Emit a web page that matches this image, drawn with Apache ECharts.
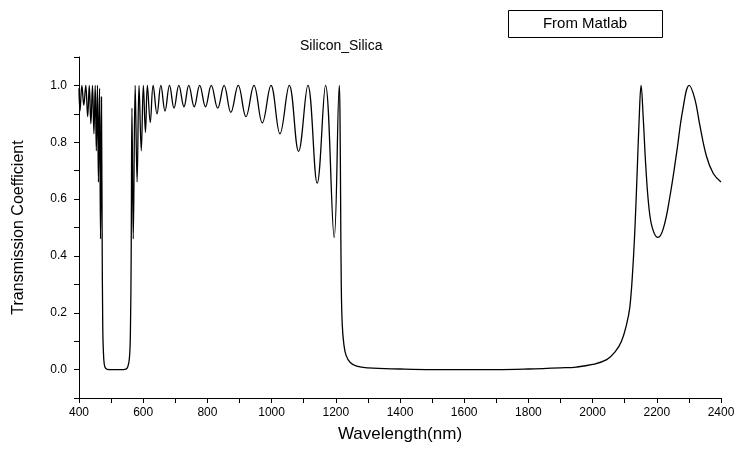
<!DOCTYPE html>
<html>
<head>
<meta charset="utf-8">
<title>Silicon_Silica</title>
<script src="https://cdn.jsdelivr.net/npm/echarts@6.0.0/dist/echarts.min.js"></script>
<style>
  html, body { margin: 0; padding: 0; background: #fff; }
  #chart { width: 739px; height: 450px; }
</style>
</head>
<body>
<div id="chart"></div>
<script>
// transmission, [wavelength nm, T]
const shortPass = [
  [400, 0.99], [403, 0.91], [409, 1.0], [415, 0.93], [421, 1.0], [427, 0.89],
  [432, 1.0], [437, 0.865], [442, 1.0], [446.5, 0.83], [450.5, 1.0], [454, 0.77],
  [457.5, 1.0], [460.5, 0.66], [464, 0.99], [467, 0.46], [470, 0.96]
];
const firstGap = [
  [472, 0.5], [474, 0.15], [477, 0.04], [481, 0.008], [488, 0.001], [500, 0],
  [530, 0], [546, 0.002], [552, 0.01], [557, 0.04], [560, 0.12], [562.5, 0.4]
];
const midPass = [
  [565, 0.92], [569, 0.46], [575, 1.0], [581, 0.66], [587, 1.0], [594, 0.77],
  [600.5, 1.0], [607, 0.835], [613, 1.0], [622, 0.87], [631, 1.0], [643, 0.9],
  [655, 1.0], [668, 0.91], [682, 1.0], [696, 0.92], [711, 1.0], [727, 0.925],
  [742, 1.0], [759, 0.925], [776, 1.0], [794, 0.925], [812, 1.0], [832, 0.92],
  [852, 1.0], [873, 0.905], [896, 1.0], [920, 0.89], [945, 1.0], [971, 0.868],
  [998, 1.0], [1026, 0.83], [1055, 1.0], [1084, 0.768], [1113, 1.0], [1142, 0.656],
  [1168, 1.0], [1195, 0.465], [1211, 1.0]
];
const secondGap = [
  [1213, 0.9], [1215, 0.6], [1217, 0.3], [1220, 0.16], [1225, 0.09], [1232, 0.05],
  [1245, 0.025], [1265, 0.012], [1300, 0.006], [1400, 0.002], [1500, 0], [1700, 0],
  [1800, 0.002], [1900, 0.006], [1950, 0.009], [2000, 0.018], [2044, 0.035],
  [2070, 0.062], [2090, 0.1], [2106, 0.16], [2116, 0.22], [2125, 0.35], [2132, 0.5]
];
const longPass = [
  [2139, 0.7], [2145, 0.88], [2151, 1.0], [2158, 0.88], [2166, 0.71], [2176, 0.565],
  [2187, 0.495], [2203, 0.465], [2220, 0.495], [2241, 0.61], [2262, 0.765],
  [2281, 0.915], [2301, 1.0], [2319, 0.95], [2334, 0.86], [2355, 0.75],
  [2376, 0.69], [2400, 0.66]
];

const curve = [].concat(shortPass, firstGap, midPass, secondGap, longPass);

const font = '"Liberation Sans", Arial, sans-serif';
const chart = echarts.init(document.getElementById('chart'), null, { renderer: 'canvas' });

const option = {
  backgroundColor: '#fff',
  animation: false,
  title: {
    text: 'Silicon_Silica',
    left: 300,
    top: 38,
    padding: 0,
    textStyle: { fontFamily: font, fontSize: 14, fontWeight: 'normal', color: '#000', lineHeight: 16 }
  },
  graphic: [
    {
      type: 'rect',
      shape: { x: 508.5, y: 10.5, width: 154, height: 27 },
      style: { fill: '#fff', stroke: '#000', lineWidth: 1 }
    },
    {
      type: 'text',
      x: 585,
      y: 24,
      style: {
        text: 'From Matlab', fontFamily: font, fontSize: 15, fill: '#000',
        align: 'center', verticalAlign: 'middle'
      }
    }
  ],
  grid: { left: 79, right: 18, top: 57, bottom: 52 },
  xAxis: {
    type: 'value',
    min: 400,
    max: 2400,
    interval: 200,
    name: 'Wavelength(nm)',
    nameLocation: 'middle',
    nameGap: 28,
    nameTextStyle: { fontFamily: font, fontSize: 17, color: '#000' },
    axisLine: { onZero: false, lineStyle: { color: '#000', width: 1 } },
    axisTick: { length: 5, lineStyle: { color: '#000' } },
    minorTick: { show: true, splitNumber: 2, length: 5, lineStyle: { color: '#000' } },
    axisLabel: {
      fontFamily: font, fontSize: 12, color: '#000', margin: 9,
      formatter: function (v) { return String(Math.round(v)); }
    },
    splitLine: { show: false }
  },
  yAxis: {
    type: 'value',
    min: -0.1,
    max: 1.1,
    interval: 0.1,
    name: 'Transmission Coefficient',
    nameLocation: 'middle',
    nameGap: 52,
    nameTextStyle: { fontFamily: font, fontSize: 16, color: '#000' },
    axisLine: { show: true, lineStyle: { color: '#000', width: 1 } },
    axisTick: { show: true, length: 5, lineStyle: { color: '#000' } },
    axisLabel: {
      fontFamily: font, fontSize: 12, color: '#000', margin: 12,
      formatter: function (v) {
        const k = Math.round(v * 10);
        return (k % 2 === 0 && k >= 0 && k <= 10) ? (k / 10).toFixed(1) : '';
      }
    },
    splitLine: { show: false }
  },
  series: [{
    type: 'line',
    data: curve,
    smooth: 0.4,
    symbol: 'none',
    lineStyle: { color: '#000', width: 1.3 }
  }]
};

chart.setOption(option);
</script>
</body>
</html>
